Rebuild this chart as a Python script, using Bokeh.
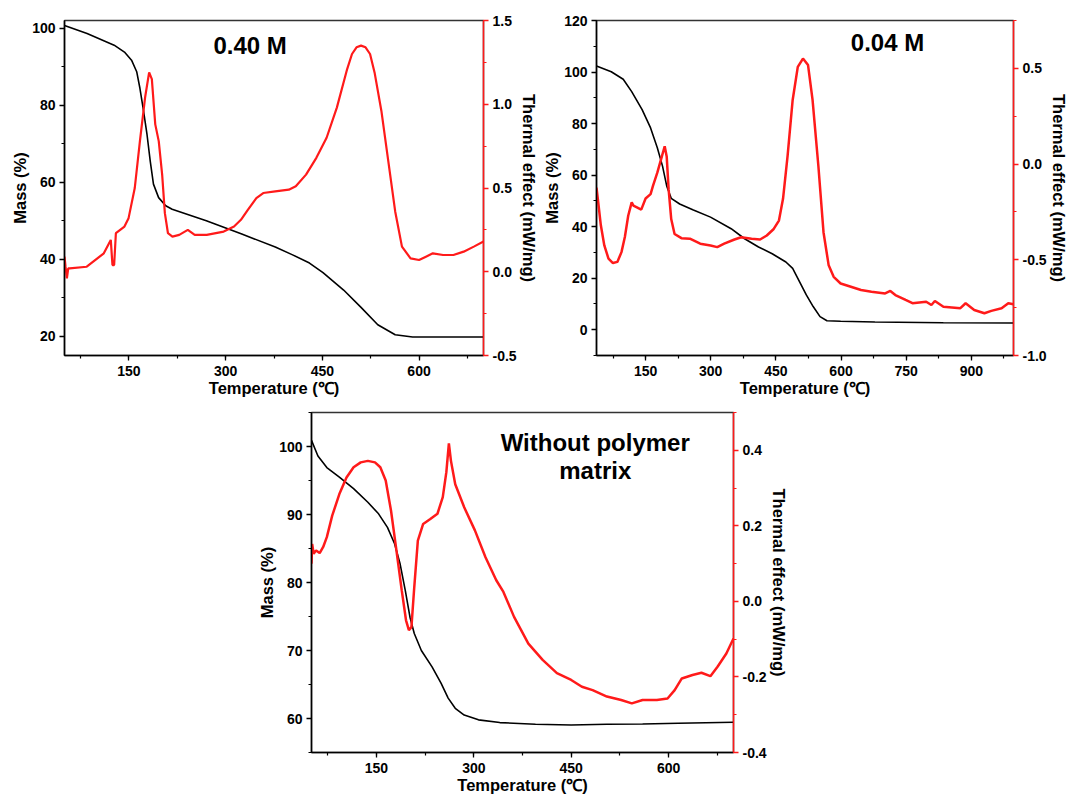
from bokeh.plotting import figure
from bokeh.models import Range1d, LinearAxis, SingleIntervalTicker, PrintfTickFormatter, Label, Spacer
from bokeh.layouts import column, row
from bokeh.embed import file_html
from bokeh.resources import INLINE

# ---------------- Panel 1: 0.40 M ----------------
p1_mass_t = [50, 85, 127, 143, 154, 162, 167, 172, 178, 183, 188, 196, 207, 217, 270, 324, 377,
             403, 430, 451, 483, 510, 536, 563, 590, 640, 700]
p1_mass = [100.7, 98.6, 95.6, 93.8, 91.7, 88.7, 84.4, 79.2, 72.4, 65.5, 59.5, 56.0, 53.9, 53.0, 50.0,
           46.6, 43.2, 41.2, 39.0, 36.5, 32.0, 27.5, 23.0, 20.4, 19.8, 19.8, 19.8]
p1_heat_t = [50, 51.6, 53.7, 55.8, 58, 84.5, 111, 121.8, 124.4, 127, 129.7, 143, 149.4, 159, 167, 175,
             181.3, 185.5, 190.8, 196.2, 201.5, 205.7, 210.5, 217.4, 228, 241.3, 252, 270.6, 297, 313,
             323.7, 334.4, 347.6, 358.3, 377, 398, 408.8, 424.7, 440.7, 456.6, 472.5, 488.5, 496, 503,
             510, 517, 524, 531, 541.6, 552.3, 563, 573.5, 586.8, 600, 610.7, 621.4, 637.3, 653.3,
             669.2, 685, 700]
p1_heat = [0.09, 0.03, -0.04, 0.02, 0.02, 0.03, 0.11, 0.19, 0.04, 0.04, 0.23, 0.27, 0.32, 0.50, 0.78, 1.04,
           1.19, 1.15, 0.88, 0.78, 0.58, 0.35, 0.23, 0.21, 0.22, 0.25, 0.22, 0.22, 0.24, 0.27,
           0.31, 0.37, 0.44, 0.47, 0.48, 0.49, 0.51, 0.58, 0.68, 0.80, 0.98, 1.21, 1.30, 1.34,
           1.35, 1.34, 1.30, 1.19, 0.96, 0.66, 0.36, 0.15, 0.08, 0.07, 0.09, 0.11, 0.10, 0.10,
           0.12, 0.15, 0.18]

# ---------------- Panel 2: 0.04 M ----------------
p2_mass_t = [37, 71, 98.5, 118, 142, 161.5, 177, 189, 198.6, 209, 228.5, 260, 299.5, 347, 378, 410,
             441.5, 473, 488.6, 504.6, 520, 535.8, 551.6, 567.5, 599, 678, 835.5, 997]
p2_mass = [102.3, 100.1, 97.2, 92.4, 85.4, 78.3, 70.6, 63.5, 55.8, 51.0, 48.8, 46.5, 43.7, 39.2, 35.3,
           32.1, 29.5, 26.3, 23.8, 18.6, 13.5, 9.0, 5.1, 3.5, 3.3, 3.0, 2.7, 2.6]
p2_heat_t = [37, 41, 47, 55, 64.6, 74.8, 85, 94.5, 102.4, 110, 118, 122, 130, 140, 150, 161.5, 167, 177,
             187.5, 194, 198.6, 203, 209, 216.7, 232.5, 252, 275.8, 299.5, 315, 331, 354.6, 370, 394,
             413.7, 429, 445, 457, 466.5, 476.8, 488.6, 500.4, 512.3, 524, 534.4, 547.8, 559.6, 571.5,
             583, 599, 622.6, 646, 670, 701.5, 713.4, 725, 748.6, 764.4, 796, 808, 816, 835.6, 874.7,
             886.8, 906.6, 930, 946, 969.6, 985, 997]
p2_heat = [-0.123, -0.20, -0.32, -0.425, -0.494, -0.517, -0.511, -0.46, -0.38, -0.27, -0.20, -0.217,
           -0.226, -0.238, -0.18, -0.157, -0.114, -0.045, 0.04, 0.093, 0.04, -0.131, -0.287, -0.365,
           -0.387, -0.39, -0.416, -0.425, -0.434, -0.416, -0.394, -0.382, -0.39, -0.394, -0.373,
           -0.339, -0.295, -0.18, 0.04, 0.335, 0.508, 0.551, 0.517, 0.335, -0.01, -0.356, -0.529,
           -0.589, -0.624, -0.641, -0.658, -0.667, -0.676, -0.663, -0.684, -0.71, -0.727, -0.719,
           -0.736, -0.715, -0.745, -0.753, -0.727, -0.762, -0.779, -0.767, -0.753, -0.727, -0.732]

# ---------------- Panel 3: without polymer matrix ----------------
p3_mass_t = [50, 59.9, 73.6, 92.9, 114.8, 136.8, 153.3, 167, 178, 186.3, 194.5, 201.7, 208.3, 219.2,
             235.7, 249.5, 260.5, 271.4, 285.2, 307.2, 340, 395, 450, 505, 560, 614.8, 700]
p3_mass = [100.9, 98.6, 96.9, 95.5, 93.8, 91.8, 90.1, 88.1, 85.7, 82.8, 78.8, 74.9, 72.5, 70.0, 67.6,
           65.2, 63.0, 61.5, 60.5, 59.8, 59.4, 59.15, 59.05, 59.15, 59.2, 59.3, 59.45]
p3_heat_t = [50, 51, 53.3, 57, 62.6, 68, 73.6, 81.9, 92.9, 103.9, 114.8, 125.8, 136.8, 147.8, 156,
             164.3, 172.5, 180.8, 189, 195.6, 200, 203.9, 208.3, 213.8, 222, 233, 244, 252.2, 257.7,
             261.6, 264.8, 271.4, 285.2, 301.7, 318, 334.6, 345.6, 362, 384, 406, 428, 450, 466.5, 483,
             505, 527, 543.4, 560, 582, 598.4, 609.4, 620.4, 636.9, 650.6, 664.4, 675.4, 689, 700]
p3_heat = [0.10, 0.152, 0.126, 0.135, 0.128, 0.144, 0.17, 0.227, 0.284, 0.328, 0.355, 0.368, 0.372,
           0.368, 0.355, 0.32, 0.24, 0.135, 0.029, -0.05, -0.076, -0.068, 0.038, 0.161, 0.205, 0.218,
           0.232, 0.276, 0.342, 0.418, 0.372, 0.31, 0.249, 0.188, 0.117, 0.056, 0.025, -0.041, -0.112,
           -0.155, -0.19, -0.208, -0.226, -0.235, -0.252, -0.261, -0.27, -0.261, -0.261, -0.257,
           -0.235, -0.204, -0.195, -0.189, -0.198, -0.173, -0.138, -0.098]

FONT = "Liberation Sans"
RED = "#ff1a1a"


def style_axis(ax, color="black", label_standoff=4, title_standoff=0):
    ax.axis_line_color = color
    ax.axis_line_width = 1.5
    ax.major_tick_line_color = color
    ax.minor_tick_line_color = color
    ax.major_tick_line_width = 1.3
    ax.minor_tick_line_width = 1.2
    ax.major_tick_in = 0
    ax.major_tick_out = 5
    ax.minor_tick_in = 0
    ax.minor_tick_out = 3
    ax.major_label_text_font = FONT
    ax.major_label_text_font_style = "bold"
    ax.major_label_text_font_size = "14px"
    ax.major_label_text_color = "black"
    ax.major_label_standoff = label_standoff
    ax.axis_label_text_font = FONT
    ax.axis_label_text_font_style = "bold"
    ax.axis_label_text_font_size = "16.5px"
    ax.axis_label_text_color = "black"
    ax.axis_label_standoff = title_standoff


def panel(width, height, borders, xr, yr, hr, xint, yint, hint, hfmt,
          mt, mv, ht, hv, notes, red_width=2.2, note_size="24px"):
    bl, br, bt, bb = borders
    p = figure(width=width, height=height, output_backend="svg", toolbar_location=None,
               x_range=Range1d(*xr), y_range=Range1d(*yr),
               min_border_left=bl, min_border_right=br, min_border_top=bt, min_border_bottom=bb)
    p.extra_y_ranges = {"heat": Range1d(*hr)}
    p.xgrid.visible = False
    p.ygrid.visible = False
    p.outline_line_color = "#333333"
    p.outline_line_width = 1.5
    p.background_fill_color = "white"
    p.border_fill_color = "white"

    p.xaxis.ticker = SingleIntervalTicker(interval=xint, num_minor_ticks=2)
    p.yaxis.ticker = SingleIntervalTicker(interval=yint, num_minor_ticks=2)
    p.xaxis.axis_label = "Temperature (\u2103)"
    p.yaxis.axis_label = "Mass (%)"
    style_axis(p.xaxis[0], label_standoff=5, title_standoff=0)
    style_axis(p.yaxis[0])

    rax = LinearAxis(y_range_name="heat", axis_label="Thermal effect (mW/mg)",
                     ticker=SingleIntervalTicker(interval=hint, num_minor_ticks=2),
                     formatter=PrintfTickFormatter(format=hfmt))
    style_axis(rax, RED)
    p.add_layout(rax, "right")

    p.line(mt, mv, line_color="black", line_width=1.6)
    p.line(ht, hv, line_color=RED, line_width=red_width, y_range_name="heat")

    for (tx, ty, txt) in notes:
        p.add_layout(Label(x=tx, y=ty, text=txt, text_font=FONT, text_font_style="bold",
                           text_font_size=note_size, text_align="center",
                           text_baseline="middle", text_color="black"))
    return p


p1 = panel(540, 405, (64, 56, 18, 50), (50, 700), (15, 102), (-0.5, 1.5), 150, 20, 0.5, "%.1f",
           p1_mass_t, p1_mass, p1_heat_t, p1_heat, [(338, 95.5, "0.40 M")])
p2 = panel(530, 405, (54, 56, 20, 48), (37, 997), (-10, 120), (-1.0, 0.75), 150, 20, 0.5, "%.1f",
           p2_mass_t, p2_mass, p2_heat_t, p2_heat, [(707, 111.5, "0.04 M")], red_width=2.5)
p3 = panel(536, 397, (57, 57, 7, 50), (50, 700), (55, 105), (-0.4, 0.5), 150, 10, 0.2, "%.1f",
           p3_mass_t, p3_mass, p3_heat_t, p3_heat,
           [(487, 100.6, "Without polymer"), (487, 96.4, "matrix")], red_width=2.5)

layout = column(row(p1, p2), row(Spacer(width=254, height=397), p3))

open("out.html", "w").write(file_html(layout, INLINE))
